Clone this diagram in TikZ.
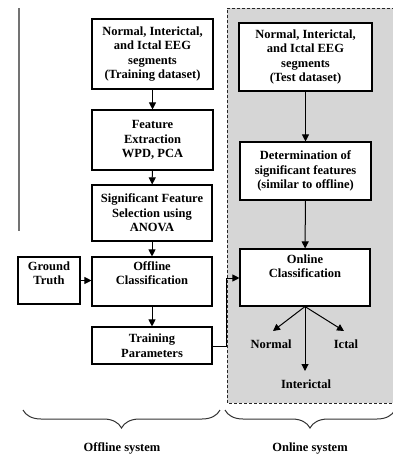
\documentclass[tikz,border=0pt]{standalone}
\usepackage{fontspec}
\setmainfont{Liberation Serif}
\usetikzlibrary{arrows.meta,decorations.pathreplacing}
\begin{document}
\begin{tikzpicture}[x=1pt,y=-1pt,
  txt/.style={font=\bfseries\fontsize{12.5}{14.5}\selectfont},
  box/.style={txt,draw,line width=1.1pt,align=center,inner sep=0pt,fill=white},
  lbl/.style={txt,align=center,inner sep=0pt},
  arr/.style={-{Triangle[length=7pt,width=7pt]},line width=1pt},
  brc/.style={decorate,decoration={brace,mirror,amplitude=18pt},line width=1pt,draw=black!80}]
\useasboundingbox (0,0) rectangle (392,458);
% online region
\path[fill=black!16] (227,8) rectangle (400,403);
\draw[dashed,dash pattern=on 3pt off 2pt,line width=0.9pt,black!85] (400,8) -- (227,8) -- (227,403) -- (400,403);
% left artifact line
\draw[line width=2pt,black!55] (19,8) -- (19,231);
% offline boxes
\node[box,minimum width=121pt,minimum height=70pt] (b1) at (152.5,54) {Normal, Interictal,\\and Ictal EEG\\segments\\(Training dataset)};
\node[box,minimum width=121pt,minimum height=60pt] (b2) at (152.5,140) {Feature\\Extraction\\WPD, PCA};
\node[box,minimum width=120pt,minimum height=56pt] (b3) at (152,213) {Significant Feature\\Selection using\\ANOVA};
\node[box,minimum width=120pt,minimum height=49pt,
  label={[lbl,anchor=north,yshift=-5pt]north:Offline\\Classification}] (b4) at (152,281.5) {};
\node[box,minimum width=120pt,minimum height=37pt] (b5) at (152,345.5) {Training\\Parameters};
\node[box,minimum width=62pt,minimum height=47pt,
  label={[lbl,anchor=north,yshift=-5pt]north:Ground\\Truth}] (gt) at (49,280.5) {};
% online boxes
\node[box,minimum width=133pt,minimum height=68pt] (r1) at (305.5,57) {Normal, Interictal,\\and Ictal EEG\\segments\\(Test dataset)};
\node[box,minimum width=131pt,minimum height=58pt] (r2) at (305.5,171) {Determination of\\significant features\\(similar to offline)};
\node[box,minimum width=130pt,minimum height=57pt,
  label={[lbl,anchor=north,yshift=-6pt]north:Online\\Classification}] (r3) at (305,277.5) {};
% outputs
\node[lbl] (nor) at (271,344) {Normal};
\node[lbl] (ict) at (346,344) {Ictal};
\node[lbl] (int) at (306,384) {Interictal};
\coordinate (cn) at (273,331);
\coordinate (ci) at (344,331);
\coordinate (cc) at (305,371);
\coordinate (k1) at (226,346);
\coordinate (k2) at (226,278);
% arrows
\draw[arr] (b1) -- (b2);
\draw[arr] (b2) -- (b3);
\draw[arr] (b3) -- (b4);
\draw[arr] (b4) -- (b5);
\draw[arr] (gt.east) -- (gt.east -| b4.west);
\draw[arr] (r1) -- (r2);
\draw[arr] (r2) -- (r3);
\draw[arr] (b5.east |- k1) -- (k1) -- (k2) -- (k2 -| r3.west);
\draw[arr] (r3.south) -- (cn);
\draw[arr] (r3.south) -- (ci);
\draw[arr] (r3.south) -- (cc);
% braces
\coordinate (o1) at (23,410);
\coordinate (o2) at (220,410);
\coordinate (n1) at (225,410);
\coordinate (n2) at (395,410);
\draw[brc] (o1) -- (o2);
\draw[brc] (n1) -- (n2);
\node[lbl] (offl) at (122,448) {Offline system};
\node[lbl] (onl) at (310,449) {Online system};
\end{tikzpicture}
\end{document}
